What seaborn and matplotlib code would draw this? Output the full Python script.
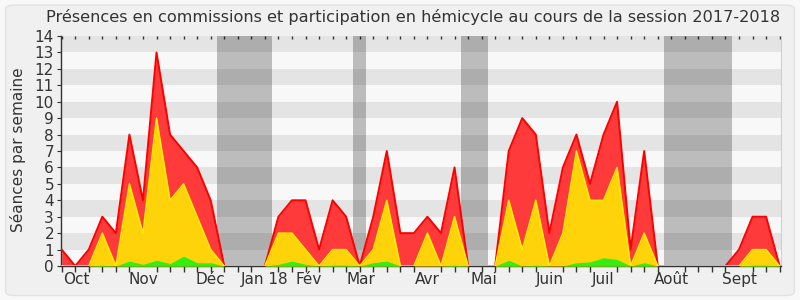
import matplotlib
matplotlib.use("Agg")
import matplotlib.pyplot as plt
from matplotlib.patches import FancyBboxPatch
import seaborn as sns
import numpy as np
import pandas as pd

# ---- data (weekly values) ----
weeks = list(range(54))
red = [1, 0, 1, 3, 2, 8, 4, 13, 8, 7, 6, 4,
       0, 0, 0, 0,
       3, 4, 4, 1, 4, 3,
       0,
       3, 7, 2, 2, 3, 2, 6,
       0, 0, 0,
       7, 9, 8, 2, 6, 8, 5, 8, 10, 1, 7,
       0, 0, 0, 0, 0, 0,
       1, 3, 3,
       0]
yellow = [0, 0, 0, 2, 0, 5, 2, 9, 4, 5, 3, 1,
          0, 0, 0, 0,
          2, 2, 1, 0, 1, 1,
          0,
          1, 4, 0, 0, 2, 0, 3,
          0, 0, 0,
          4, 1, 4, 0, 2, 7, 4, 4, 6, 0, 2,
          0, 0, 0, 0, 0, 0,
          0, 1, 1,
          0]
green = [0, 0, 0, 0.05, 0, 0.3, 0.1, 0.35, 0.15, 0.6, 0.2, 0.2,
         0, 0, 0, 0,
         0.1, 0.3, 0.1, 0, 0.05, 0.05,
         0,
         0.2, 0.3, 0, 0, 0, 0, 0.05,
         0, 0, 0,
         0.35, 0, 0.05, 0, 0, 0.2, 0.25, 0.5, 0.4, 0, 0.2,
         0, 0, 0, 0, 0, 0,
         0, 0.05, 0.05,
         0]
month_labels = ["Oct", "Nov", "Déc", "Jan 18", "Fév", "Mar", "Avr", "Mai",
                "Juin", "Juil", "Août", "Sept"]
month_pos = [1.1, 6.0, 10.95, 15.0, 18.2, 22.1, 27.0, 31.15, 36.0, 40.0, 45.0, 50.0]
vacations = [(11.5, 15.5), (21.5, 22.5), (29.5, 31.5), (44.5, 49.5)]
title = "Présences en commissions et participation en hémicycle au cours de la session 2017-2018"
ylabel = "Séances par semaine"

df = pd.DataFrame({"week": weeks, "red": red, "yellow": yellow, "green": green})

# ---- figure ----
txt = "#333333"
fig = plt.figure(figsize=(8, 3), dpi=100, facecolor="#f8f8f8")
frame = FancyBboxPatch((0.007, 0.015), 0.986, 0.968, boxstyle="round,pad=0,rounding_size=0.012",
                       transform=fig.transFigure, facecolor="#f0f0f0", edgecolor="#e2e2e2",
                       linewidth=1, zorder=-10)
fig.patches.append(frame)

ax = fig.add_axes([61 / 800, 34 / 300, 720 / 800, 230 / 300])
ax.set_facecolor("#f8f8f8")

for k in range(14):
    ax.axhspan(k, k + 1, color="#e4e4e4" if k % 2 == 1 else "#f8f8f8", lw=0, zorder=0)
for a, b in vacations:
    ax.axvspan(a, b, color="black", alpha=0.24, lw=0, zorder=1)

ax.fill_between(df["week"], df["red"], color="#ff3a3a", lw=0, zorder=2)
sns.lineplot(data=df, x="week", y="red", color="#ff0000", linewidth=1.4, ax=ax, zorder=3)
ax.fill_between(df["week"], df["yellow"], color="#ffd30a", lw=0, zorder=4)
sns.lineplot(data=df, x="week", y="yellow", color="#ffee00", linewidth=1.1, ax=ax, zorder=5)
ax.fill_between(df["week"], df["green"], color="#33ee11", lw=0, zorder=6)

ax.set_xlim(-0.05, 53.1)
ax.set_ylim(0, 14)
ax.set_yticks(range(15))
ax.set_yticklabels([str(v) for v in range(15)], fontsize=11, color=txt)
ax.set_xticks(month_pos)
ax.set_xticklabels(month_labels, fontsize=11, color=txt)
ax.set_xticks(weeks, minor=True)
ax.tick_params(axis="x", which="major", length=0, pad=4)
ax.tick_params(axis="x", which="minor", length=4, color="#333333", width=1)
ax.tick_params(axis="y", length=3, color="#333333", pad=2)
ax.set_xlabel("")
ax.set_ylabel("")

secax = ax.secondary_xaxis("top")
secax.set_xticks(weeks)
secax.tick_params(direction="in", length=2, width=1, color="#333333", labeltop=False)
secax.spines["top"].set_visible(False)

for s in ["left", "bottom"]:
    ax.spines[s].set_color("#333333")
    ax.spines[s].set_linewidth(1)
ax.spines["top"].set_visible(False)
ax.spines["right"].set_color("#d0d0d0")

fig.text(413 / 800, 0.943, title, ha="center", va="center", fontsize=11.6, color=txt)
fig.text(0.0225, 0.5, ylabel, ha="center", va="center", rotation=90, fontsize=11, color=txt)

fig.savefig("out.png", dpi=100, facecolor=fig.get_facecolor())
